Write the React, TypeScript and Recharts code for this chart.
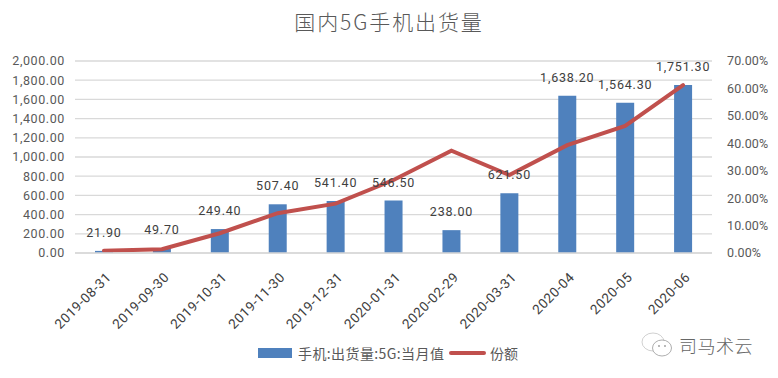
import { ComposedChart, Bar, Line, XAxis, YAxis, CartesianGrid, LabelList } from "recharts"

const months = ["2019-08-31", "2019-09-30", "2019-10-31", "2019-11-30", "2019-12-31", "2020-01-31", "2020-02-29", "2020-03-31", "2020-04", "2020-05", "2020-06"]
const shipments = [21.9, 49.7, 249.4, 507.4, 541.4, 546.5, 238.0, 621.5, 1638.2, 1564.3, 1751.3]
const share = [0.8, 1.4, 7.2, 14.5, 18.0, 26.6, 37.3, 28.4, 39.3, 46.3, 61.2]
const leftTicks = [0, 200, 400, 600, 800, 1000, 1200, 1400, 1600, 1800, 2000]
const rightTicks = [0, 10, 20, 30, 40, 50, 60, 70]

const barName = "手机:出货量:5G:当月值"
const lineName = "份额"

const data = months.map((m, i) => ({ month: m, shipments: shipments[i], share: share[i] }))

const cjk = '"Noto Sans CJK SC", sans-serif'
const numFont = 'Roboto, sans-serif'
const fmt = (v: number) => v.toLocaleString("en-US", { minimumFractionDigits: 2, maximumFractionDigits: 2 })

function MonthTick({ x, y, payload }: any) {
    return (
        <text
            x={x + 8}
            y={y + 17}
            textAnchor="end"
            transform={`rotate(-45 ${x + 8} ${y + 17})`}
            style={{ fontSize: 13.5, fill: "#404040", fontFamily: numFont, letterSpacing: 0.5 }}
        >
            {payload.value}
        </text>
    )
}

function ChartLegend() {
    return (
        <div style={{ position: "absolute", left: 258, top: 343, display: "flex", alignItems: "center", fontFamily: cjk, fontSize: 14, color: "#595959", lineHeight: "20px" }}>
            <span style={{ width: 34, height: 10, background: "#4f81bd", marginRight: 6 }} />
            <span style={{ width: 147, whiteSpace: "nowrap", letterSpacing: 0.4 }}>{barName}</span>
            <span style={{ width: 37, height: 4, borderRadius: 2, background: "#c0504d", margin: "0 4px" }} />
            <span>{lineName}</span>
        </div>
    )
}

export default function App() {
    return (
        <div style={{ position: "absolute", left: 0, top: 0, width: 778, height: 378, background: "#fff", overflow: "hidden" }}>
            <div style={{ position: "absolute", left: 0, width: 778, top: 5, textAlign: "center", fontFamily: cjk, fontSize: 21, fontWeight: 300, color: "#595959", lineHeight: "32px", letterSpacing: 1.9 }}>
                国内5G手机出货量
            </div>
            <ComposedChart width={778} height={378} data={data} margin={{ top: 61, right: 0, bottom: 45, left: 0 }}>
                <CartesianGrid vertical={false} stroke="#d9d9d9" strokeWidth={1.3} yAxisId="left" />
                <XAxis
                    dataKey="month"
                    height={80}
                    interval={0}
                    tickLine={false}
                    axisLine={{ stroke: "#d9d9d9", strokeWidth: 1.3 }}
                    tick={MonthTick}
                />
                <YAxis
                    yAxisId="left"
                    width={75}
                    domain={[0, 2000]}
                    ticks={leftTicks}
                    interval={0}
                    tickFormatter={fmt}
                    tickLine={false}
                    axisLine={false}
                    tickMargin={4}
                    tick={{ fontSize: 12.5, fill: "#595959", fontFamily: numFont, letterSpacing: 0.6 }}
                />
                <YAxis
                    yAxisId="right"
                    orientation="right"
                    width={66}
                    domain={[0, 70]}
                    ticks={rightTicks}
                    interval={0}
                    tickFormatter={(v: number) => `${v.toFixed(2)}%`}
                    tickLine={false}
                    axisLine={false}
                    tickMargin={9}
                    tick={{ fontSize: 12.5, fill: "#595959", fontFamily: numFont, letterSpacing: 0.1 }}
                />
                <Bar yAxisId="left" dataKey="shipments" name={barName} fill="#4f81bd" barSize={18} isAnimationActive={false}>
                    <LabelList dataKey="shipments" position="top" offset={14} formatter={fmt} style={{ fontSize: 12.5, fill: "#404040", fontFamily: numFont, letterSpacing: 0.8 }} />
                </Bar>
                <Line yAxisId="right" dataKey="share" name={lineName} type="linear" stroke="#c0504d" strokeWidth={4} strokeLinecap="round" dot={false} isAnimationActive={false} />
            </ComposedChart>
            <ChartLegend />
            {/* watermark */}
            <svg width={32} height={26} style={{ position: "absolute", left: 641, top: 332 }} viewBox="0 0 32 26">
                <ellipse cx={12} cy={10} rx={11} ry={9} fill="none" stroke="#c4c4c4" strokeWidth={0.8} />
                <ellipse cx={21} cy={16} rx={9.5} ry={8} fill="#fff" stroke="#999999" strokeWidth={0.8} />
                <circle cx={18} cy={14} r={0.9} fill="#999" />
                <circle cx={24} cy={14} r={0.9} fill="#999" />
            </svg>
            <div style={{ position: "absolute", left: 679, top: 333, fontFamily: cjk, fontSize: 18, fontWeight: 300, color: "#666", lineHeight: "24px", letterSpacing: 0.5 }}>司马术云</div>
        </div>
    )
}
